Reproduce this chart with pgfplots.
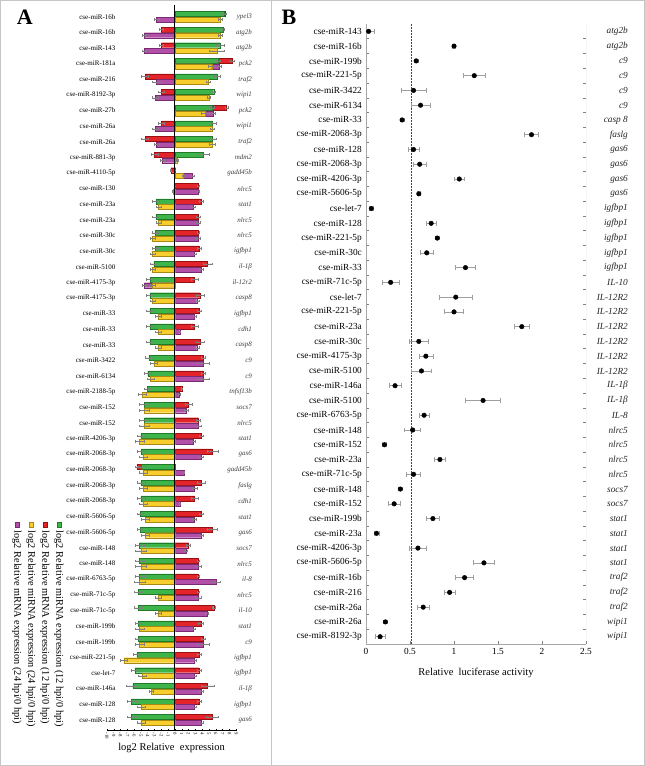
\documentclass[border=0pt]{standalone}
\usepackage{fontspec}
\setmainfont{Liberation Serif}
\usepackage{pgfplots}
\usepackage{pgfplotstable}
\pgfplotsset{compat=1.18}
\definecolor{cgreen}{HTML}{3DB54A}
\definecolor{cgreend}{HTML}{1F7A2A}
\definecolor{cred}{HTML}{E3242B}
\definecolor{credd}{HTML}{9A1010}
\definecolor{cyellow}{HTML}{F7CE2E}
\definecolor{cyellowd}{HTML}{A88A10}
\definecolor{cpurple}{HTML}{B24FA8}
\definecolor{cpurpled}{HTML}{7A2A72}

\pgfplotstableread{
i g ge r re yl ye p pe
0 7.2 0.2 7.4 0.1 6.6 0.3 -2.7 0.4
1 7.1 0.2 -2.0 0.3 6.6 0.3 -4.5 0.3
2 6.6 0.6 -2.0 0.3 6.2 1.1 -4.5 0.3
3 6.4 0.3 8.4 0.3 5.4 0.5 6.5 0.3
4 6.2 0.4 -4.4 0.5 4.9 0.3 -2.7 0.6
5 5.7 0.2 -2.0 0.4 5.0 0.2 -2.9 0.4
6 5.5 0.3 7.6 0.2 4.4 0.6 5.6 0.3
7 5.5 0.5 -2.0 0.4 5.5 0.3 -2.9 0.4
8 5.5 0.5 -4.4 0.5 5.5 0.4 -2.7 0.4
9 4.1 0.9 -3.0 0.5 0.3 0.1 -1.9 0.3
10 0 0 -0.6 0.1 1.2 0.1 2.6 0.2
11 0 0 3.4 0.1 -0.3 0.1 3.4 0.2
12 -2.8 0.5 3.8 0.3 -2.4 0.4 2.7 0.3
13 -2.8 0.5 3.4 0.3 -2.4 0.4 3.4 0.3
14 -2.9 0.5 3.4 0.2 -3.3 0.4 3.4 0.3
15 -2.9 0.5 3.5 0.3 -3.3 0.4 2.9 0.2
16 -3.1 0.5 4.8 0.7 -3.3 0.4 3.8 0.3
17 -3.7 0.5 2.9 0.5 -3.3 0.4 -4.5 0.3
18 -3.7 0.5 3.7 0.6 -3.3 0.4 3.2 0.3
19 -3.7 0.5 3.5 0.3 -2.5 0.4 2.9 0.2
20 -3.7 0.5 2.9 0.5 -2.5 0.4 0.7 0.1
21 -3.7 0.5 3.7 0.6 -2.5 0.4 3.2 0.3
22 -3.8 0.6 4.1 0.3 -3.1 0.5 4.1 0.9
23 -4.0 0.5 4.1 0.3 -3.6 0.5 4.1 0.9
24 -4.1 0.5 1.0 0.1 -4.8 0.6 0.6 0.1
25 -4.5 0.7 2.0 0.5 -4.5 0.7 1.6 0.3
26 -4.5 0.7 3.4 0.3 -4.5 0.7 3.4 0.4
27 -5.0 0.6 3.8 0.3 -5.2 0.6 2.7 0.3
28 -5.0 0.6 5.5 0.8 -4.7 0.6 3.9 0.3
29 -5.0 0.6 -5.6 0.2 -4.7 0.6 1.3 0.1
30 -5.0 0.6 3.8 0.6 -4.7 0.6 2.9 0.3
31 -5.0 0.6 2.9 0.5 -4.7 0.6 0.7 0.1
32 -5.1 0.4 3.8 0.3 -4.4 0.6 2.8 0.3
33 -5.1 0.4 5.5 0.7 -4.4 0.6 3.9 0.3
34 -5.2 0.6 2.0 0.3 -5.0 0.8 1.6 0.2
35 -5.2 0.6 3.4 0.2 -5.0 0.8 3.4 0.4
36 -5.2 0.6 3.4 0.2 -5.2 0.8 6.0 0.6
37 -5.4 0.6 3.4 0.2 -2.5 0.4 3.4 0.4
38 -5.4 0.6 5.7 0.2 -2.5 0.4 4.7 0.2
39 -5.4 0.4 3.8 0.4 -5.2 0.6 2.7 0.3
40 -5.4 0.4 4.1 0.3 -5.2 0.6 4.1 0.9
41 -5.6 0.6 3.5 0.3 -7.5 0.5 2.9 0.2
42 -5.9 0.6 3.5 0.3 -4.8 0.6 2.9 0.2
43 -6.2 1.0 4.8 1.0 -3.5 0.3 3.8 0.3
44 -6.4 0.7 3.5 0.3 -5.0 0.6 2.9 0.2
45 -6.4 0.7 5.5 0.9 -5.0 0.6 3.9 0.3
}\tA

\pgfplotstableread{
i v e
0 0.03 0.06
1 1.00 0.02
2 0.57 0.02
3 1.23 0.12
4 0.54 0.14
5 0.62 0.11
6 0.41 0.02
7 1.88 0.08
8 0.54 0.06
9 0.61 0.07
10 1.06 0.06
11 0.60 0.02
12 0.06 0.02
13 0.74 0.06
14 0.81 0.02
15 0.69 0.07
16 1.13 0.11
17 0.28 0.10
18 1.02 0.19
19 1.00 0.11
20 1.77 0.08
21 0.60 0.11
22 0.68 0.08
23 0.63 0.11
24 0.33 0.07
25 1.33 0.20
26 0.66 0.06
27 0.53 0.09
28 0.21 0.02
29 0.84 0.06
30 0.54 0.08
31 0.39 0.02
32 0.32 0.07
33 0.76 0.07
34 0.12 0.03
35 0.59 0.10
36 1.34 0.12
37 1.12 0.10
38 0.95 0.06
39 0.65 0.07
40 0.22 0.02
41 0.16 0.06
}\tB

\begin{document}
\begin{tikzpicture}[x=1pt,y=1pt]
\draw[gray!45, line width=0.8pt] (0.5,0.5) rectangle (644.5,765.5);
\draw[gray!45, line width=0.8pt] (271,0.5) -- (271,765.5);
\node[font=\bfseries\fontsize{22}{24}\selectfont] at (25,748.5) {A};
\node[font=\bfseries\fontsize{22}{24}\selectfont] at (289,748.5) {B};

% ---------------- Panel A ----------------
\begin{axis}[
  at={(107pt,36pt)}, anchor=south west, scale only axis,
  width=129.2pt, height=724.8pt,
  xmin=-10, xmax=9, ymin=-45.65, ymax=0.75,
  axis x line*=bottom, axis y line*=left,
  y axis line style={draw=none},
  x axis line style={black, line width=0.5pt},
  xtick={-10,...,9},
  xticklabel style={rotate=-90, anchor=west, inner sep=1pt, font=\fontsize{4.8}{5}\selectfont},
  major x tick style={black, line width=0.3pt},
  tick align=center, major tick length=2.5pt,
  /pgf/number format/assume math mode=true,
  ytick={0,-1,...,-45},
  yticklabels={{cse-miR-16b},{cse-miR-16b},{cse-miR-143},{cse-miR-181a},{cse-miR-216},{cse-miR-8192-3p},{cse-miR-27b},{cse-miR-26a},{cse-miR-26a},{cse-miR-881-3p},{cse-miR-4110-5p},{cse-miR-130},{cse-miR-23a},{cse-miR-23a},{cse-miR-30c},{cse-miR-30c},{cse-miR-5100},{cse-miR-4175-3p},{cse-miR-4175-3p},{cse-miR-33},{cse-miR-33},{cse-miR-33},{cse-miR-3422},{cse-miR-6134},{cse-miR-2188-5p},{cse-miR-152},{cse-miR-152},{cse-miR-4206-3p},{cse-miR-2068-3p},{cse-miR-2068-3p},{cse-miR-2068-3p},{cse-miR-2068-3p},{cse-miR-5606-5p},{cse-miR-5606-5p},{cse-miR-148},{cse-miR-148},{cse-miR-6763-5p},{cse-miR-71c-5p},{cse-miR-71c-5p},{cse-miR-199b},{cse-miR-199b},{cse-miR-221-5p},{cse-let-7},{cse-miR-146a},{cse-miR-128},{cse-miR-128}},
  major y tick style={draw=none},
  yticklabel style={anchor=east, inner sep=0pt, xshift=10pt, font=\fontsize{7}{8}\selectfont},
  xlabel={log2 Relative\ \ expression},
  xlabel style={at={(axis description cs:0.5,0)}, anchor=center, yshift=-18pt, font=\fontsize{10.5}{12}\selectfont},
  error bars/error bar style={gray, line width=0.3pt},
  error bars/error mark options={rotate=90, gray, mark size=1.3pt, line width=0.3pt},
]
\addplot[xbar, bar shift=0pt, bar width=5pt, fill=cred, draw=credd, line width=0.35pt,
  error bars/.cd, x dir=both, x explicit]
  table[x=r, y expr=-\thisrow{i}+0.18, x error=re] {\tA};
\addplot[xbar, bar shift=0pt, bar width=5pt, fill=cgreen, draw=cgreend, line width=0.35pt,
  error bars/.cd, x dir=both, x explicit]
  table[x=g, y expr=-\thisrow{i}+0.18, x error=ge] {\tA};
\addplot[xbar, bar shift=0pt, bar width=5pt, fill=cpurple, draw=cpurpled, line width=0.35pt,
  error bars/.cd, x dir=both, x explicit]
  table[x=p, y expr=-\thisrow{i}-0.18, x error=pe] {\tA};
\addplot[xbar, bar shift=0pt, bar width=5pt, fill=cyellow, draw=cyellowd, line width=0.35pt,
  error bars/.cd, x dir=both, x explicit]
  table[x=yl, y expr=-\thisrow{i}-0.18, x error=ye] {\tA};
\draw[black, line width=0.9pt] (axis cs:0,0.75) -- (axis cs:0,-45.65);
\end{axis}

% legend of panel A (rotated, reading downwards)
\begin{scope}[font=\fontsize{10.3}{11}\selectfont]
\draw[fill=cgreen, draw=cgreend, line width=0.4pt] (56.8,239) rectangle (61.2,243.4);
\node[rotate=-90, anchor=west, inner sep=0pt] at (59,235.5) {log2 Relative miRNA expression (12 hpi/0 hpi)};
\draw[fill=cred, draw=credd, line width=0.4pt] (42.8,239) rectangle (47.2,243.4);
\node[rotate=-90, anchor=west, inner sep=0pt] at (45,235.5) {log2 Relative mRNA expression (12 hpi/0 hpi)};
\draw[fill=cyellow, draw=cyellowd, line width=0.4pt] (28.8,239) rectangle (33.2,243.4);
\node[rotate=-90, anchor=west, inner sep=0pt] at (31,235.5) {log2 Relative miRNA expression (24 hpi/0 hpi)};
\draw[fill=cpurple, draw=cpurpled, line width=0.4pt] (14.8,239) rectangle (19.2,243.4);
\node[rotate=-90, anchor=west, inner sep=0pt] at (17,235.5) {log2 Relative mRNA expression (24 hpi/0 hpi)};
\end{scope}

\begin{axis}[
  at={(107pt,36pt)}, anchor=south west, scale only axis,
  width=129.2pt, height=724.8pt,
  xmin=-10, xmax=9, ymin=-45.65, ymax=0.75,
  axis x line=none, axis y line*=right,
  y axis line style={draw=none},
  ytick={0,-1,...,-45},
  yticklabels={{ypel3},{atg2b},{atg2b},{pck2},{traf2},{wipi1},{pck2},{wipi1},{traf2},{mdm2},{gadd45b},{nlrc5},{stat1},{nlrc5},{nlrc5},{igfbp1},{il-1β},{il-12r2},{casp8},{igfbp1},{cdh1},{casp8},{c9},{c9},{tnfsf13b},{socs7},{nlrc5},{stat1},{gas6},{gadd45b},{faslg},{cdh1},{stat1},{gas6},{socs7},{nlrc5},{il-8},{nlrc5},{il-10},{stat1},{c9},{igfbp1},{igfbp1},{il-1β},{igfbp1},{gas6}},
  major y tick style={draw=none},
  yticklabel style={anchor=east, inner sep=0pt, xshift=16pt, font=\itshape\fontsize{7}{8}\selectfont, text=black!75},
]
\end{axis}

% ---------------- Panel B ----------------
\begin{axis}[
  at={(366pt,122pt)}, anchor=south west, scale only axis,
  width=220pt, height=619.9pt,
  xmin=0, xmax=2.5, ymin=-41.5, ymax=0.5,
  axis line style={draw=none},
  xtick={0,0.5,1,1.5,2,2.5},
  xtick pos=lower, ytick pos=both, yticklabel pos=left,
  /pgf/number format/assume math mode=true,
  xticklabel style={font=\fontsize{9.3}{10}\selectfont, yshift=-1pt},
  major x tick style={gray, line width=0.6pt},
  major tick length=3pt, minor tick length=3.5pt,
  ytick={0,-1,...,-41},
  yticklabels={{cse-miR-143},{cse-miR-16b},{cse-miR-199b},{cse-miR-221-5p},{cse-miR-3422},{cse-miR-6134},{cse-miR-33},{cse-miR-2068-3p},{cse-miR-128},{cse-miR-2068-3p},{cse-miR-4206-3p},{cse-miR-5606-5p},{cse-let-7},{cse-miR-128},{cse-miR-221-5p},{cse-miR-30c},{cse-miR-33},{cse-miR-71c-5p},{cse-let-7},{cse-miR-221-5p},{cse-miR-23a},{cse-miR-30c},{cse-miR-4175-3p},{cse-miR-5100},{cse-miR-146a},{cse-miR-5100},{cse-miR-6763-5p},{cse-miR-148},{cse-miR-152},{cse-miR-23a},{cse-miR-71c-5p},{cse-miR-148},{cse-miR-152},{cse-miR-199b},{cse-miR-23a},{cse-miR-4206-3p},{cse-miR-5606-5p},{cse-miR-16b},{cse-miR-216},{cse-miR-26a},{cse-miR-26a},{cse-miR-8192-3p}},
  major y tick style={draw=none},
  minor y tick num=1,
  minor y tick style={gray, line width=0.6pt},
  yticklabel style={anchor=east, inner sep=0pt, xshift=-4pt, font=\fontsize{9.3}{10}\selectfont},
  xlabel={Relative\ \ luciferase activity},
  xlabel style={at={(axis description cs:0.5,0)}, anchor=center, yshift=-29pt, font=\fontsize{10.5}{12}\selectfont},
]
\draw[gray!70, line width=0.9pt] (axis cs:0,0.5) -- (axis cs:0,-41.5) -- (axis cs:2.5,-41.5) -- (axis cs:2.5,0.5);
\draw[red!90!black, line width=1.1pt, dash pattern=on 1.6pt off 1.4pt] (axis cs:0.52,0.5) -- (axis cs:0.52,-41.5);
\addplot[only marks, mark=*, mark size=2.3pt, black,
  error bars/.cd, x dir=both, x explicit,
  error bar style={gray!75, line width=0.6pt},
  error mark options={rotate=90, gray!75, mark size=2.4pt, line width=0.6pt}]
  table[x=v, y expr=-\thisrow{i}, x error=e] {\tB};
\end{axis}

\begin{axis}[
  at={(366pt,122pt)}, anchor=south west, scale only axis,
  width=220pt, height=619.9pt,
  xmin=0, xmax=2.5, ymin=-41.5, ymax=0.5,
  axis x line=none, axis y line*=right,
  y axis line style={draw=none},
  ytick={0,-1,...,-41},
  yticklabels={{atg2b},{atg2b},{c9},{c9},{c9},{c9},{casp 8},{faslg},{gas6},{gas6},{gas6},{gas6},{igfbp1},{igfbp1},{igfbp1},{igfbp1},{igfbp1},{IL-10},{IL-12R2},{IL-12R2},{IL-12R2},{IL-12R2},{IL-12R2},{IL-12R2},{IL-1β},{IL-1β},{IL-8},{nlrc5},{nlrc5},{nlrc5},{nlrc5},{socs7},{socs7},{stat1},{stat1},{stat1},{stat1},{traf2},{traf2},{traf2},{wipi1},{wipi1}},
  major y tick style={draw=none},
  yticklabel style={anchor=east, inner sep=0pt, xshift=42pt, font=\itshape\fontsize{9.3}{10}\selectfont, text=black!85},
]
\end{axis}
\end{tikzpicture}
\end{document}
